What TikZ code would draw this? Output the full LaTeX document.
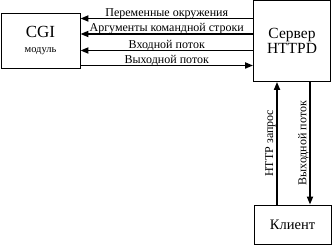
\documentclass[tikz,border=0pt]{standalone}
\usepackage{fontspec}
\setmainfont{Liberation Serif}
\usetikzlibrary{arrows.meta}
\begin{document}
\begin{tikzpicture}[x=1pt,y=-1pt,
  box/.style={draw,line width=0.9pt,inner sep=0pt,align=center},
  arr/.style={line width=1.8pt,-{Triangle[length=8pt,width=6pt]}},
  lbl/.style={font=\fontsize{12}{13}\selectfont,inner sep=0pt,anchor=base,yshift=2pt},
  vlbl/.style={font=\fontsize{12}{13}\selectfont,inner sep=0.3pt,anchor=south,rotate=90}]
\useasboundingbox (0,0) rectangle (332,245);
\node[box,minimum width=79pt,minimum height=55pt] (cgi) at (40.5,40.5)
  {{\fontsize{17}{17}\selectfont CGI}\\[3.5pt]{\fontsize{10.5}{11}\selectfont модуль}};
\node[box,minimum width=77pt,minimum height=81pt] (srv) at (292,41)
  {\fontsize{15.5}{18}\selectfont Сервер\\\fontsize{15.5}{18}\selectfont HTTPD};
\node[box,minimum width=77pt,minimum height=39pt] (cli) at (292.5,224.5)
  {\fontsize{14.5}{16}\selectfont Клиент};
\coordinate (y1) at (0,18.5);
\coordinate (y2) at (0,34);
\coordinate (y3) at (0,50.5);
\coordinate (y4) at (0,65.5);
\coordinate (xu) at (277,0);
\coordinate (xd) at (310,0);
\draw[arr] (srv.west |- y1) -- node[lbl]{Переменные окружения} (cgi.east |- y1);
\draw[arr] (srv.west |- y2) -- node[lbl]{Аргументы командной строки} (cgi.east |- y2);
\draw[arr] (srv.west |- y3) -- node[lbl]{Входной поток} (cgi.east |- y3);
\draw[arr] (cgi.east |- y4) -- node[lbl]{Выходной поток} (srv.west |- y4);
\draw[arr] (cli.north -| xu) -- node[vlbl]{HTTP запрос} (srv.south -| xu);
\draw[arr] (srv.south -| xd) -- node[vlbl]{Выходной поток} (cli.north -| xd);
\end{tikzpicture}
\end{document}
